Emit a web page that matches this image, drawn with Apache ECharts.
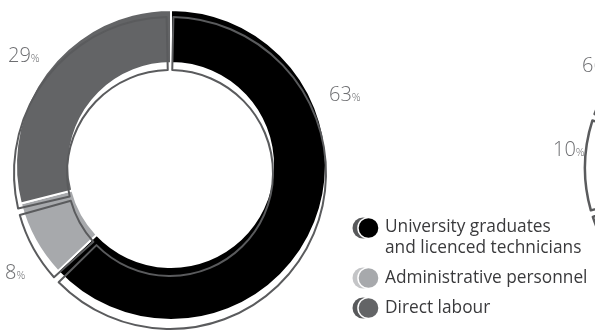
<!DOCTYPE html>
<html>
<head>
<meta charset="utf-8">
<script src="https://cdn.jsdelivr.net/npm/echarts@6/dist/echarts.min.js"></script>
<style>
  html, body { margin: 0; padding: 0; background: #ffffff; }
  #chart { width: 595px; height: 333px; }
</style>
</head>
<body>
<div id="chart"></div>
<script>
// Workforce composition (%)
const categories = [
  'University graduates\nand licenced technicians',
  'Administrative personnel',
  'Direct labour'
];
const shares = [63, 8, 29];
// neighbouring chart, only its left edge is inside the frame
const sharesNext = [24, 10, 66];

const sliceColors = ['#000000', '#a7a9ac', '#636466'];
const ringColors = ['#58595b', '#c4c5c7', '#58595b'];
const outlineColor = '#5a5b5d';
const labelColor = '#6d6e71';
const font = 'Open Sans';

// two-tone legend marker: an offset ring behind a filled disc
function marker(fill, ring, h, cy) {
  const svg =
    '<svg xmlns="http://www.w3.org/2000/svg" width="28" height="' + h + '" viewBox="0 0 28 ' + h + '">' +
    '<circle cx="11" cy="' + cy + '" r="10.5" fill="' + ring + '"/>' +
    '<circle cx="16" cy="' + cy + '" r="10.8" fill="#ffffff"/>' +
    '<circle cx="16.5" cy="' + cy + '" r="9.8" fill="' + fill + '"/>' +
    '</svg>';
  return 'image://data:image/svg+xml;charset=utf-8,' + encodeURIComponent(svg);
}

const pct = v => '{v|' + v + '}{p|%}';
const richPct = {
  v: { fontFamily: font, fontSize: 20, color: labelColor, fontWeight: 300 },
  p: { fontFamily: font, fontSize: 11, color: labelColor, fontWeight: 300, padding: [5, 0, 0, 0] }
};

// label anchor points around each ring
const labelSpots = [
  { x: 329, y: 95 },
  { x: 5, y: 273 },
  { x: 8, y: 56 }
];
const labelSpotsNext = [
  { x: 600, y: 230 },
  { x: 553, y: 150 },
  { x: 582, y: 66 }
];

const chart = echarts.init(document.getElementById('chart'), null, { renderer: 'canvas' });

const legendText = { fontFamily: font, fontSize: 17.3, color: '#3a3a3c', lineHeight: 21, fontWeight: 'normal' };

const pctLabel = {
  show: true,
  position: 'outside',
  overflow: 'none',
  formatter: p => pct(p.value),
  rich: richPct
};

chart.setOption({
  animation: false,
  backgroundColor: '#ffffff',
  legend: [
    {
      left: 352, top: 217, orient: 'vertical', padding: 0,
      itemWidth: 28, itemHeight: 42, itemGap: 0, itemTextGap: 3,
      selectedMode: false,
      textStyle: legendText,
      data: [{ name: categories[0], icon: marker(sliceColors[0], ringColors[0], 42, 11) }]
    },
    {
      left: 352, top: 267, orient: 'vertical', padding: 0,
      itemWidth: 28, itemHeight: 22, itemGap: 0, itemTextGap: 3,
      selectedMode: false,
      textStyle: legendText,
      data: [{ name: categories[1], icon: marker(sliceColors[1], ringColors[1], 22, 11) }]
    },
    {
      left: 352, top: 297, orient: 'vertical', padding: 0,
      itemWidth: 28, itemHeight: 22, itemGap: 0, itemTextGap: 3,
      selectedMode: false,
      textStyle: legendText,
      data: [{ name: categories[2], icon: marker(sliceColors[2], ringColors[2], 22, 11) }]
    }
  ],
  series: [
    {
      // filled ring
      type: 'pie',
      center: [171, 165],
      radius: [102, 155],
      startAngle: 90,
      clockwise: true,
      silent: true,
      avoidLabelOverlap: false,
      itemStyle: { borderColor: '#ffffff', borderWidth: 2 },
      label: pctLabel,
      labelLine: { show: false },
      labelLayout: p => Object.assign({ align: 'left', verticalAlign: 'middle' }, labelSpots[p.dataIndex]),
      data: categories.map((c, i) => ({ name: c, value: shares[i], itemStyle: { color: sliceColors[i] } }))
    },
    {
      // offset outline of the same ring
      type: 'pie',
      center: [170, 173],
      radius: [103, 156],
      startAngle: 90,
      clockwise: true,
      padAngle: 2.5,
      silent: true,
      legendHoverLink: false,
      itemStyle: { color: 'rgba(0,0,0,0)', borderColor: outlineColor, borderWidth: 2 },
      label: { show: false },
      labelLine: { show: false },
      data: categories.map((c, i) => ({ name: c, value: shares[i] }))
    },
    {
      // next ring, outline only
      type: 'pie',
      center: [741, 168],
      radius: [103, 156],
      startAngle: -76.6,
      clockwise: true,
      padAngle: 2.5,
      silent: true,
      avoidLabelOverlap: false,
      itemStyle: { color: 'rgba(0,0,0,0)', borderColor: outlineColor, borderWidth: 2.5 },
      label: pctLabel,
      labelLine: { show: false },
      labelLayout: p => Object.assign({ align: 'left', verticalAlign: 'middle' }, labelSpotsNext[p.dataIndex]),
      data: categories.map((c, i) => ({ name: c, value: sharesNext[i] }))
    }
  ]
});
</script>
</body>
</html>
